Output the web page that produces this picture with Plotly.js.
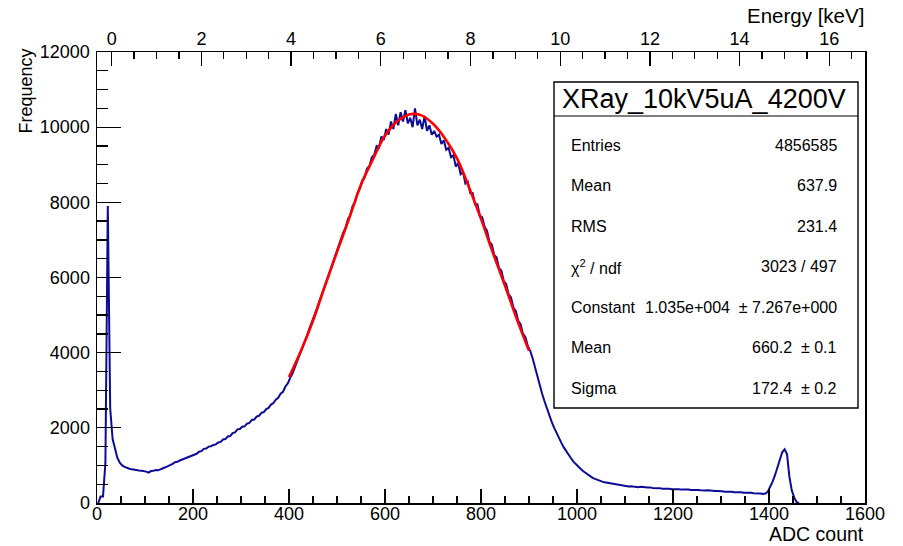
<!DOCTYPE html>
<html>
<head>
<meta charset="utf-8">
<script src="https://cdn.plot.ly/plotly-3.0.1.min.js"></script>
<style>
html,body{margin:0;padding:0;background:#fff;}
#chart{width:903px;height:546px;}
</style>
</head>
<body>
<div id="chart"></div>
<script>
// ---------------- DATA ----------------
// Histogram of ADC counts, bins of 5 ADC starting at 0
const BIN_WIDTH = 5;
const counts = [
  // 0 - 95
  0, 170, 170, 1060, 7900, 2520, 1700, 1450, 1200, 1070, 1000, 960, 930, 910, 895, 880, 885, 865, 860, 850,
  // 100 - 195
  835, 810, 850, 855, 875, 870, 905, 925, 950, 975, 1020, 1040, 1085, 1095, 1130, 1155, 1190, 1210, 1245, 1270,
  // 200 - 295
  1300, 1310, 1365, 1380, 1440, 1450, 1500, 1510, 1545, 1560, 1610, 1625, 1690, 1700, 1770, 1780, 1860, 1880, 1960, 1970,
  // 300 - 395
  2030, 2040, 2110, 2130, 2210, 2220, 2300, 2320, 2400, 2420, 2500, 2530, 2620, 2660, 2750, 2800, 2910, 2960, 3100, 3180,
  // 400 - 495
  3330, 3450, 3620, 3780, 3950, 4110, 4290, 4450, 4640, 4800, 4980, 5150, 5340, 5500, 5700, 5880, 6070, 6240, 6450, 6600,
  // 500 - 595
  6800, 6960, 7180, 7310, 7540, 7660, 7900, 8010, 8240, 8360, 8580, 8660, 8900, 8960, 9200, 9260, 9500, 9460, 9750, 9660,
  // 600 - 695
  9950, 9800, 10150, 9950, 10350, 10050, 10400, 10150, 10450, 10100, 10250, 10000, 10500, 10050, 10200, 9950, 10300, 9900, 10050, 9800,
  // 700 - 795
  9900, 9750, 9800, 9550, 9650, 9400, 9450, 9200, 9250, 8950, 9050, 8750, 8800, 8500, 8550, 8250, 8250, 7950, 7950, 7650,
  // 800 - 895
  7600, 7350, 7250, 6950, 6880, 6600, 6530, 6250, 6180, 5900, 5830, 5550, 5470, 5200, 5110, 4850, 4760, 4500, 4420, 4180,
  // 900 - 995
  4050, 3850, 3600, 3350, 3100, 2900, 2700, 2500, 2300, 2150, 2000, 1850, 1720, 1600, 1480, 1370, 1280, 1190, 1100, 1030,
  // 1000 - 1095
  970, 910, 850, 800, 750, 710, 670, 640, 610, 590, 570, 550, 540, 520, 505, 495, 488, 475, 465, 458,
  // 1100 - 1195
  452, 440, 445, 430, 435, 420, 430, 415, 420, 410, 415, 400, 405, 390, 395, 380, 385, 372, 378, 368,
  // 1200 - 1295
  372, 362, 368, 356, 362, 350, 356, 345, 352, 340, 348, 338, 344, 332, 336, 324, 330, 318, 322, 308,
  // 1300 - 1395
  314, 302, 306, 296, 300, 288, 294, 282, 288, 274, 280, 268, 272, 258, 262, 250, 252, 242, 250, 300,
  // 1400 - 1460
  430, 570, 740, 930, 1170, 1350, 1430, 1300, 700, 330, 150, 20, 0
];

// Gaussian fit curve (red)
const fitX = [400, 425, 450, 475, 500, 525, 550, 575, 600, 625, 650, 675, 700, 725, 750, 775, 800, 825, 850, 875, 900];
const fitY = [3350, 4050, 4850, 5780, 6680, 7560, 8470, 9150, 9780, 10150, 10340, 10320, 10090, 9700, 9170, 8400, 7560, 6650, 5780, 4880, 4050];

// Axis ticks
const adcTicks = [0, 200, 400, 600, 800, 1000, 1200, 1400, 1600];
const freqTicks = [0, 2000, 4000, 6000, 8000, 10000, 12000];
const energyTicks = [0, 2, 4, 6, 8, 10, 12, 14, 16];
const energyRange = [-0.328, 16.796];

// Stats box
const statsTitle = "XRay_10kV5uA_4200V";
const statsLabels = ["Entries", "Mean", "RMS", "\u03c7<sup>2</sup> / ndf", "Constant", "Mean", "Sigma"];
const statsValues = ["4856585", "637.9", "231.4", "3023 / 497",
  "1.035e+004 \u00a0\u00b1 7.267e+000", "660.2 \u00a0\u00b1 0.1", "172.4 \u00a0\u00b1 0.2"];

// ---------------- LAYOUT ----------------
const FIG_W = 903, FIG_H = 546;
const M = {l: 97, r: 38, t: 52, b: 43};
const PW = FIG_W - M.l - M.r, PH = FIG_H - M.t - M.b;
const px2x = p => (p - M.l) / PW;
const py2y = p => (FIG_H - M.b - p) / PH;

const FONT = "Liberation Sans, Arial, Helvetica, sans-serif";
const BLUE = "#0b0b96";

const binCenters = counts.map((_, i) => i * BIN_WIDTH + BIN_WIDTH / 2);

const traces = [
  {
    x: binCenters, y: counts, type: "scatter", mode: "lines",
    line: {color: BLUE, width: 2, shape: "linear"},
    hoverinfo: "skip", showlegend: false
  },
  {
    x: fitX, y: fitY, type: "scatter", mode: "lines",
    line: {color: "#ff0000", width: 2.6, shape: "spline", smoothing: 1},
    hoverinfo: "skip", showlegend: false
  },
  {
    // carrier for the top (energy) axis, draws nothing
    x: energyRange, y: [null, null], xaxis: "x2", yaxis: "y",
    type: "scatter", mode: "lines", hoverinfo: "skip", showlegend: false
  }
];

const axisCommon = {
  showgrid: false, zeroline: false, ticks: "inside", tickcolor: "#000", tickwidth: 1.3,
  tickfont: {family: FONT, size: 18, color: "#000"}, fixedrange: true
};

const annotations = [];
const shapes = [];

// Axis titles
annotations.push({
  text: "Energy [keV]", xref: "paper", yref: "paper", x: px2x(864), y: py2y(15),
  xanchor: "right", yanchor: "middle", showarrow: false, borderpad: 0, borderwidth: 0,
  font: {family: FONT, size: 20.5, color: "#000"}
});
annotations.push({
  text: "ADC count", xref: "paper", yref: "paper", x: px2x(864), y: py2y(534),
  xanchor: "right", yanchor: "middle", showarrow: false, borderpad: 0, borderwidth: 0,
  font: {family: FONT, size: 19.5, color: "#000"}
});
annotations.push({
  text: "Frequency", xref: "paper", yref: "paper", x: px2x(25), y: py2y(49),
  xanchor: "center", yanchor: "top", textangle: -90, showarrow: false, borderpad: 0, borderwidth: 0,
  font: {family: FONT, size: 18, color: "#000"}
});

// Stats box
const BOX = {l: 554, r: 858, t: 82, b: 408, sep: 116};
shapes.push({type: "rect", xref: "paper", yref: "paper",
  x0: px2x(BOX.l), x1: px2x(BOX.r), y0: py2y(BOX.b), y1: py2y(BOX.t),
  line: {color: "#000", width: 1.4}, fillcolor: "#fff", layer: "above"});
shapes.push({type: "line", xref: "paper", yref: "paper",
  x0: px2x(BOX.l), x1: px2x(BOX.r), y0: py2y(BOX.sep), y1: py2y(BOX.sep),
  line: {color: "#000", width: 1.2}, layer: "above"});
annotations.push({
  text: statsTitle, xref: "paper", yref: "paper", x: px2x(704), y: py2y(99),
  xanchor: "center", yanchor: "middle", showarrow: false, borderpad: 0, borderwidth: 0,
  font: {family: FONT, size: 27, color: "#000"}
});
const ROW0 = 145, ROWSTEP = 40.5;
statsLabels.forEach((lab, i) => {
  const yy = py2y(ROW0 + i * ROWSTEP);
  annotations.push({
    text: lab, xref: "paper", yref: "paper", x: px2x(571), y: yy,
    xanchor: "left", yanchor: "middle", showarrow: false, borderpad: 0, borderwidth: 0,
    font: {family: FONT, size: 16, color: "#000"}
  });
  annotations.push({
    text: statsValues[i], xref: "paper", yref: "paper", x: px2x(837), y: yy,
    xanchor: "right", yanchor: "middle", showarrow: false, borderpad: 0, borderwidth: 0,
    font: {family: FONT, size: 16, color: "#000"}
  });
});

const layout = {
  width: FIG_W, height: FIG_H,
  margin: M,
  paper_bgcolor: "#fff", plot_bgcolor: "#fff",
  showlegend: false,
  xaxis: Object.assign({}, axisCommon, {
    range: [0, 1600], tickmode: "array", tickvals: adcTicks, ticktext: adcTicks.map(String),
    ticklen: 14, showline: true, linecolor: "#000", linewidth: 1.5, mirror: true, ticklabelstandoff: -6,
    minor: {ticks: "inside", dtick: 50, tick0: 0, ticklen: 7, tickwidth: 1.3, tickcolor: "#000", showgrid: false}
  }),
  yaxis: Object.assign({}, axisCommon, {
    range: [0, 12000], tickmode: "array", tickvals: freqTicks, ticktext: freqTicks.map(String),
    ticklen: 24, showline: true, linecolor: "#000", linewidth: 1.5, mirror: true, ticklabelstandoff: 2,
    minor: {ticks: "inside", dtick: 500, tick0: 0, ticklen: 11, tickwidth: 1.3, tickcolor: "#000", showgrid: false}
  }),
  xaxis2: Object.assign({}, axisCommon, {
    overlaying: "x", side: "top", anchor: "y",
    range: energyRange, tickmode: "array", tickvals: energyTicks, ticktext: energyTicks.map(String),
    ticklen: 14, showline: false, ticklabelstandoff: 2,
    minor: {ticks: "inside", dtick: 0.5, tick0: 0, ticklen: 7, tickwidth: 1.3, tickcolor: "#000", showgrid: false}
  }),
  annotations: annotations,
  shapes: shapes
};

Plotly.newPlot("chart", traces, layout, {displayModeBar: false, staticPlot: true});
</script>
</body>
</html>
